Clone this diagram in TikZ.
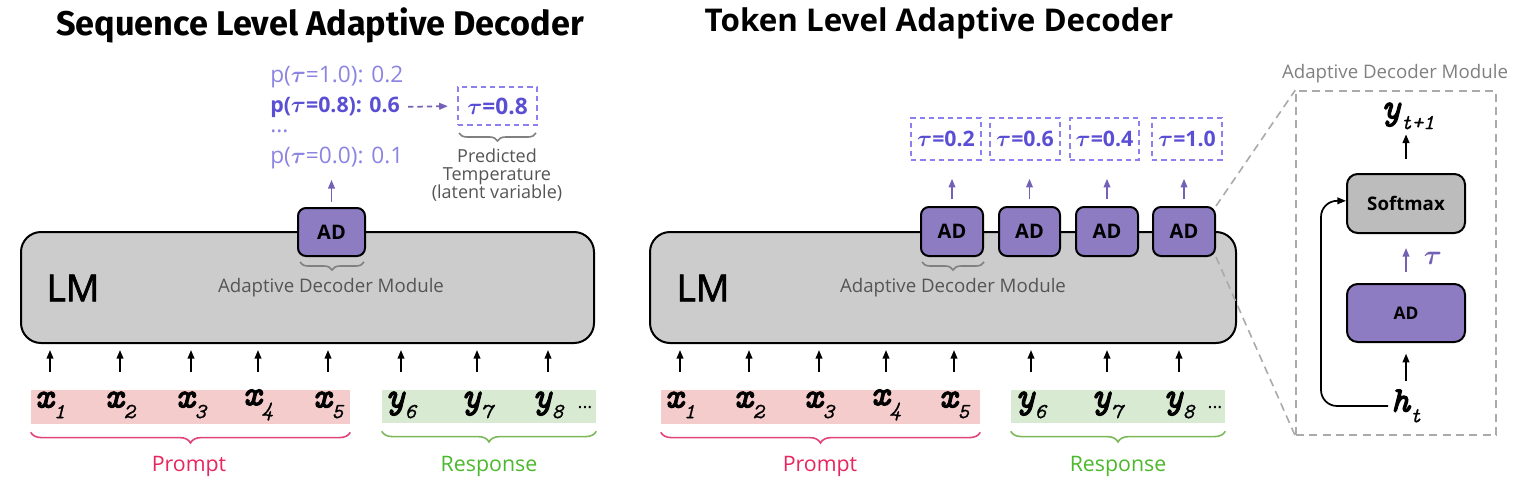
\documentclass[tikz,border=0pt]{standalone}
\usepackage{fontspec}
\usepackage{amsmath,bm}
\setmainfont{Open Sans}
\newfontfamily\firafont{Fira Sans}
\newfontfamily\semibfont[FakeBold=1.8]{Open Sans}
\newfontfamily\tokb[FakeBold=3]{Latin Modern Mono}
\newfontfamily\tokm[FakeBold=0.8]{Latin Modern Mono}
\usetikzlibrary{arrows.meta,fit,decorations.pathreplacing,calc}
\definecolor{lmgray}{HTML}{CCCCCC}
\definecolor{smgray}{HTML}{BCBCBC}
\definecolor{adpurple}{HTML}{8E7CC3}
\definecolor{arrpurple}{HTML}{7461B5}
\definecolor{taucol}{HTML}{5A4FD4}
\definecolor{taulight}{HTML}{8C84E2}
\definecolor{dashcol}{HTML}{8C80F0}
\definecolor{graytext}{HTML}{555555}
\definecolor{pinkband}{HTML}{F4CCCC}
\definecolor{greenband}{HTML}{D9EAD3}
\definecolor{promptcol}{HTML}{E8265E}
\definecolor{pbracecol}{HTML}{E0457A}
\definecolor{respcol}{HTML}{4CB82D}
\definecolor{gbracecol}{HTML}{7CB85A}
\definecolor{zoomgray}{HTML}{AAAAAA}
\newcommand{\btau}{$\bm{\tau}$}
\newcommand{\tk}[2]{{\tokb\fontsize{27}{29}\selectfont\itshape #1}\raisebox{-8pt}{\tokm\fontsize{16}{18}\selectfont\itshape #2}}
\begin{document}
\begin{tikzpicture}[x=0.75pt,y=-0.75pt,
  lmbox/.style={draw=black, line width=1.5pt, fill=lmgray, rounded corners=15pt, inner sep=0pt},
  adbox/.style={draw=black, line width=1.5pt, fill=adpurple, rounded corners=6pt, inner sep=0pt},
  adtext/.style={font=\fontsize{15}{18}\selectfont\bfseries},
  taubox/.style={draw=dashcol, line width=1.2pt, dash pattern=on 4pt off 3pt, inner sep=0pt},
  tautext/.style={text=taucol, font=\fontsize{16}{19}\selectfont\bfseries},
  arr/.style={-{Triangle[length=6.5pt,width=5pt]}, line width=1.3pt, draw=black},
  parr/.style={-{Triangle[length=6.5pt,width=5pt]}, line width=1.3pt, draw=arrpurple},
  tok/.style={inner sep=1pt},
  lmtext/.style={font=\semibfont\fontsize{28}{30}\selectfont},
  modlabel/.style={font=\fontsize{14}{16}\selectfont, text=graytext},
  gbrace/.style={decorate, decoration={brace, mirror, amplitude=6pt}, line width=1.2pt, draw=gray},
  pbrace/.style={decorate, decoration={brace, mirror, amplitude=8pt}, line width=1.2pt, draw=pbracecol},
  grbrace/.style={decorate, decoration={brace, mirror, amplitude=8pt}, line width=1.2pt, draw=gbracecol},
  plabel/.style={font=\fontsize{16}{19}\selectfont, text=promptcol},
  rlabel/.style={font=\fontsize{16}{19}\selectfont, text=respcol},
  prob/.style={font=\fontsize{17}{20}\selectfont, text=taulight, anchor=west, inner sep=0pt},
  dashz/.style={draw=zoomgray, line width=1.2pt, dash pattern=on 6pt off 4pt},
]
\useasboundingbox (0,0) rectangle (1523,489);

% ---------------- Titles ----------------
\node[font=\firafont\bfseries\fontsize{25.7}{29}\selectfont] (title1) at (320,25) {Sequence Level Adaptive Decoder};
\node[font=\bfseries\fontsize{23.5}{27}\selectfont] (title2) at (939,23) {Token Level Adaptive Decoder};

% ================= LEFT PANEL =================
\node[lmbox, fit={(21,232) (594,343)}] (lm1) {};
\node[lmtext] (lmt1) at (73,288) {LM};
\node[adbox, fit={(298,208) (365,256)}] (ad1) {};
\node[adtext] (ad1t) at (ad1.center) {AD};
\draw[gbrace] (300,262) -- (364,262);
\node[modlabel] (adm1) at (331,288) {Adaptive Decoder Module};

\node[prob] (p1) at (270,77) {p(\btau=1.0): 0.2};
\node[prob, text=taucol, font=\fontsize{16}{19}\selectfont\bfseries] (p2) at (270,107) {p(\btau=0.8): 0.6};
\node[prob] (p3) at (270,131) {...};
\node[prob] (p4) at (270,158) {p(\btau=0.0): 0.1};
\draw[parr, shorten <=4pt, shorten >=8pt] (ad1.north) -- (ad1.north |- p4.south);

\node[taubox, fit={(458,87) (537,125)}] (tb) {};
\node[tautext, font=\fontsize{17}{20}\selectfont\bfseries] (tbt) at (tb.center) {\btau=0.8};
\draw[parr, dash pattern=on 4pt off 3pt, shorten <=6pt, shorten >=7pt] (p2.east) -- (tb.west);
\draw[gbrace] (459,133) -- (536,133);
\node[font=\fontsize{13.5}{13.5}\selectfont, text=graytext, align=center] (pred) at (497,175) {Predicted\\Temperature\\(latent variable)};

% tokens left
\node[fit={(31,390) (350,424)}, fill=pinkband, inner sep=0pt] (pb1) {};
\node[fit={(382,390) (596,423)}, fill=greenband, inner sep=0pt] (gb1) {};
\coordinate (top1) at (0,372);
\node[tok] (a1) at (50,405) {\tk{x}{1}};
\node[tok] (a2) at (120,405) {\tk{x}{2}};
\node[tok] (a3) at (191,405) {\tk{x}{3}};
\node[tok] (a4) at (258,405) {\tk{x}{4}};
\node[tok] (a5) at (328,405) {\tk{x}{5}};
\node[tok] (a6) at (401,405) {\tk{y}{6}};
\node[tok] (a7) at (477,405) {\tk{y}{7}};
\node[tok] (a8) at (548,405) {\tk{y}{8}};
\node[font=\fontsize{14}{16}\selectfont] (ell1) at (585,408) {...};
\foreach \t in {a1,a2,a3,a4,a5,a6,a7,a8}
  \draw[arr, shorten >=4.5pt] (\t |- top1) -- (\t |- lm1.south);
\draw[pbrace] ([yshift=-6pt]pb1.south west) -- ([yshift=-6pt]pb1.south east);
\draw[grbrace] ([yshift=-6pt]gb1.south west) -- ([yshift=-6pt]gb1.south east);
\node[plabel] (pl1) at (189,466) {Prompt};
\node[rlabel] (rl1) at (489,466) {Response};

% ================= RIGHT PANEL =================
\node[lmbox, fit={(650,232) (1236,343)}] (lm2) {};
\node[lmtext] (lmt2) at (703,288) {LM};
\node[adbox, fit={(921,207) (983,256)}] (b1) {};
\node[adbox, fit={(999,207) (1060,256)}] (b2) {};
\node[adbox, fit={(1076,207) (1138,256)}] (b3) {};
\node[adbox, fit={(1153,207) (1215,256)}] (b4) {};
\foreach \b in {b1,b2,b3,b4}
  \node[adtext] at (\b.center) {AD};
\draw[gbrace] (922,262) -- (984,262);
\node[modlabel] (adm2) at (953,288) {Adaptive Decoder Module};

\node[taubox, fit={(911,118) (981,160)}] (c1) {};
\node[taubox, fit={(990,118) (1060,160)}] (c2) {};
\node[taubox, fit={(1070,118) (1139,160)}] (c3) {};
\node[taubox, fit={(1152,118) (1222,160)}] (c4) {};
\node[tautext] at (c1.center) {\btau=0.2};
\node[tautext] at (c2.center) {\btau=0.6};
\node[tautext] at (c3.center) {\btau=0.4};
\node[tautext] at (c4.center) {\btau=1.0};
\foreach \b/\c in {b1/c1,b2/c2,b3/c3,b4/c4}
  \draw[parr, shorten <=5pt, shorten >=13.5pt] (\b.north) -- (\b.north |- \c.south);

\node[fit={(661,390) (980,424)}, fill=pinkband, inner sep=0pt] (pb2) {};
\node[fit={(1011,390) (1225,423)}, fill=greenband, inner sep=0pt] (gb2) {};
\node[tok] (d1) at (680,405) {\tk{x}{1}};
\node[tok] (d2) at (749,405) {\tk{x}{2}};
\node[tok] (d3) at (819,405) {\tk{x}{3}};
\node[tok] (d4) at (886,405) {\tk{x}{4}};
\node[tok] (d5) at (954,405) {\tk{x}{5}};
\node[tok] (d6) at (1031,405) {\tk{y}{6}};
\node[tok] (d7) at (1107,405) {\tk{y}{7}};
\node[tok] (d8) at (1179,405) {\tk{y}{8}};
\node[font=\fontsize{14}{16}\selectfont] (ell2) at (1215,408) {...};
\foreach \t in {d1,d2,d3,d4,d5,d6,d7,d8}
  \draw[arr, shorten >=4.5pt] (\t |- top1) -- (\t |- lm2.south);
\draw[pbrace] ([yshift=-6pt]pb2.south west) -- ([yshift=-6pt]pb2.south east);
\draw[grbrace] ([yshift=-6pt]gb2.south west) -- ([yshift=-6pt]gb2.south east);
\node[plabel] (pl2) at (820,466) {Prompt};
\node[rlabel] (rl2) at (1118,466) {Response};

% ================= ZOOM PANEL =================
\node[modlabel, text=gray] (zt) at (1395,74) {Adaptive Decoder Module};
\node[fit={(1296,91) (1496,435)}, dashz, inner sep=0pt] (zp) {};
\draw[dashz] (b4.north east) -- (zp.north west);
\draw[dashz] (b4.south east) -- (zp.south west);
\node[tok] (ytp) at (1408,116) {\tk{y}{t+1}};
\node[draw=black, line width=1.5pt, fill=smgray, rounded corners=8pt, fit={(1347,174) (1465,233)}, inner sep=0pt] (sm) {};
\node[font=\fontsize{14}{17}\selectfont\bfseries] at (sm.center) {Softmax};
\node[draw=black, line width=1.5pt, fill=adpurple, rounded corners=8pt, fit={(1347,284) (1465,342)}, inner sep=0pt] (adz) {};
\node[font=\fontsize{13}{16}\selectfont\bfseries] at (adz.center) {AD};
\node[tok] (ht) at (1406,406) {\tk{h}{t}};
\node[text=arrpurple, font=\fontsize{20}{22}\selectfont] (tz) at (1433,258) {\btau};
\draw[arr] ([yshift=10.5pt]sm.north) -- ([yshift=29pt]sm.north);
\draw[parr] ([yshift=8pt]adz.north) -- ([yshift=-10.5pt]sm.south);
\draw[arr] ([yshift=-28.5pt]adz.south) -- ([yshift=-8pt]adz.south);
\coordinate (loop) at (1321,300);
\draw[arr, rounded corners=12pt] ([xshift=-1pt]ht.west) -| (loop) |- ([yshift=2pt]sm.west);
\end{tikzpicture}
\end{document}
